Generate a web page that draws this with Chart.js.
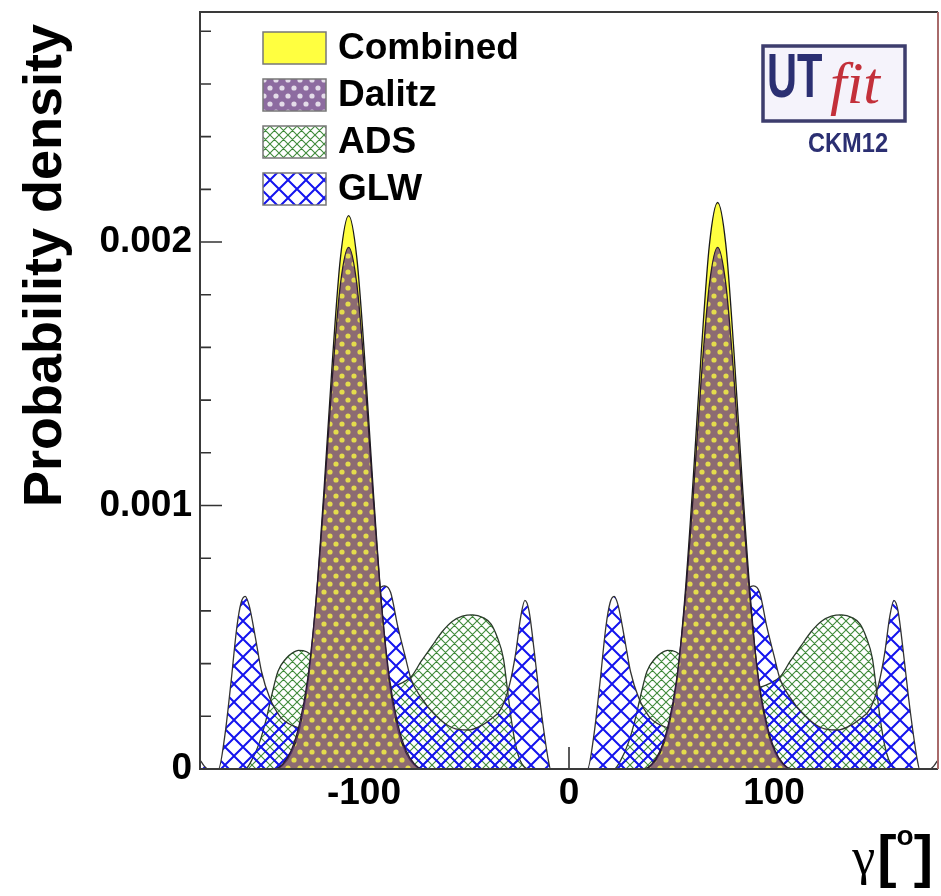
<!DOCTYPE html>
<html lang="en">
<head>
<meta charset="UTF-8">
<title>gamma probability density</title>
<script src="https://cdn.jsdelivr.net/npm/chart.js"></script>
<style>
  body { margin: 0; background: #fff; }
  .container { width: 941px; height: 896px; }
</style>
</head>
<body>
<div class="container"><canvas id="myChart" width="941" height="896"></canvas></div>
<script>
// gamma in degrees, probability density per degree
const peakDeg = [-180, -143.5, -139.5, -135.5, -131.5, -127.5, -123.5, -119.5, -115.5, -111.5, -107.5,
  -103.5, -99.5, -95.5, -91.5, -87.5, -83.5, -79.5, -75.5, -71.5,
  36.5, 40.5, 44.5, 48.5, 52.5, 56.5, 60.5, 64.5, 68.5, 72.5,
  76.5, 80.5, 84.5, 88.5, 92.5, 96.5, 100.5, 104.5, 108.5, 180];
const combinedVal = [0, 0, 0.015e-3, 0.06e-3, 0.15e-3, 0.32e-3, 0.63e-3, 1.06e-3, 1.54e-3, 1.94e-3, 2.10e-3,
  1.94e-3, 1.54e-3, 1.06e-3, 0.63e-3, 0.32e-3, 0.15e-3, 0.06e-3, 0.015e-3, 0,
  0, 0.016e-3, 0.062e-3, 0.155e-3, 0.33e-3, 0.65e-3, 1.09e-3, 1.58e-3, 1.99e-3, 2.15e-3,
  1.99e-3, 1.58e-3, 1.09e-3, 0.65e-3, 0.33e-3, 0.155e-3, 0.062e-3, 0.016e-3, 0, 0];
const dalitzVal = [0, 0, 0.02e-3, 0.07e-3, 0.17e-3, 0.34e-3, 0.63e-3, 1.03e-3, 1.48e-3, 1.84e-3, 1.98e-3,
  1.84e-3, 1.48e-3, 1.03e-3, 0.63e-3, 0.34e-3, 0.17e-3, 0.07e-3, 0.02e-3, 0,
  0, 0.02e-3, 0.07e-3, 0.17e-3, 0.34e-3, 0.63e-3, 1.03e-3, 1.48e-3, 1.84e-3, 1.98e-3,
  1.84e-3, 1.48e-3, 1.03e-3, 0.63e-3, 0.34e-3, 0.17e-3, 0.07e-3, 0.02e-3, 0, 0];

const adsDeg = [-180, -158, -155, -151, -148, -145, -142, -138, -135, -132,
  -128, -124, -118, -112, -106, -100, -94, -88, -82, -77,
  -72, -67, -62, -57, -52, -47, -42, -38, -35, -32,
  -30, -28, -26, -24, -22, -20,
  22, 25, 29, 32, 35, 38, 42, 45, 48, 52,
  56, 62, 68, 74, 80, 86, 92, 98, 103, 108,
  113, 118, 123, 128, 133, 138, 142, 145, 148, 150,
  152, 154, 156, 158, 160, 180];
const adsVal = [0, 0, 0.03e-3, 0.1e-3, 0.18e-3, 0.28e-3, 0.37e-3, 0.42e-3, 0.44e-3, 0.45e-3,
  0.445e-3, 0.42e-3, 0.38e-3, 0.345e-3, 0.325e-3, 0.315e-3, 0.31e-3, 0.31e-3, 0.325e-3, 0.35e-3,
  0.41e-3, 0.465e-3, 0.52e-3, 0.56e-3, 0.58e-3, 0.585e-3, 0.575e-3, 0.55e-3, 0.5e-3, 0.42e-3,
  0.3e-3, 0.18e-3, 0.09e-3, 0.035e-3, 0.01e-3, 0,
  0, 0.03e-3, 0.1e-3, 0.18e-3, 0.28e-3, 0.37e-3, 0.42e-3, 0.44e-3, 0.45e-3, 0.445e-3,
  0.42e-3, 0.38e-3, 0.345e-3, 0.325e-3, 0.315e-3, 0.31e-3, 0.31e-3, 0.325e-3, 0.35e-3, 0.41e-3,
  0.465e-3, 0.52e-3, 0.56e-3, 0.58e-3, 0.585e-3, 0.575e-3, 0.55e-3, 0.5e-3, 0.42e-3, 0.3e-3,
  0.18e-3, 0.09e-3, 0.035e-3, 0.01e-3, 0, 0];

const glwDeg = [-180, -178, -176, -171, -168, -165, -162, -160, -158, -156,
  -153, -150, -146, -141, -135, -129, -123, -117, -112, -107,
  -102, -97, -93, -90, -87, -83.5, -80, -77, -72, -66,
  -60, -54, -49, -44, -38, -33, -29, -26, -23.5, -21.5,
  -19.5, -17, -14.5, -12, -10, -9,
  9, 12, 15, 18, 20, 22, 24, 27, 30, 34,
  39, 45, 51, 57, 63, 68, 73, 78, 83, 87,
  90, 93, 96.5, 100, 103, 108, 114, 120, 126, 131,
  136, 142, 147, 151, 154, 156.5, 158.5, 160.5, 163, 165.5,
  168, 170, 171, 176, 178, 180];
const glwVal = [0.035e-3, 0.012e-3, 0, 0, 0.12e-3, 0.32e-3, 0.54e-3, 0.63e-3, 0.655e-3, 0.62e-3,
  0.5e-3, 0.37e-3, 0.27e-3, 0.2e-3, 0.165e-3, 0.155e-3, 0.17e-3, 0.21e-3, 0.28e-3, 0.38e-3,
  0.5e-3, 0.62e-3, 0.68e-3, 0.695e-3, 0.67e-3, 0.54e-3, 0.43e-3, 0.34e-3, 0.27e-3, 0.21e-3,
  0.17e-3, 0.15e-3, 0.148e-3, 0.16e-3, 0.19e-3, 0.23e-3, 0.32e-3, 0.44e-3, 0.58e-3, 0.64e-3,
  0.6e-3, 0.45e-3, 0.28e-3, 0.13e-3, 0.03e-3, 0,
  0, 0.12e-3, 0.32e-3, 0.54e-3, 0.63e-3, 0.655e-3, 0.62e-3, 0.5e-3, 0.37e-3, 0.27e-3,
  0.2e-3, 0.165e-3, 0.155e-3, 0.17e-3, 0.21e-3, 0.28e-3, 0.38e-3, 0.5e-3, 0.62e-3, 0.68e-3,
  0.695e-3, 0.67e-3, 0.54e-3, 0.43e-3, 0.34e-3, 0.27e-3, 0.21e-3, 0.17e-3, 0.15e-3, 0.148e-3,
  0.16e-3, 0.19e-3, 0.23e-3, 0.32e-3, 0.44e-3, 0.58e-3, 0.64e-3, 0.6e-3, 0.45e-3, 0.28e-3,
  0.13e-3, 0.03e-3, 0, 0, 0.012e-3, 0.035e-3];

const xTicks = [-100, 0, 100];
const yTicks = [0, 0.001, 0.002];
const yTickLabels = ['0', '0.001', '0.002'];
const yMinorTicks = [0.0002, 0.0004, 0.0006, 0.0008, 0.0012, 0.0014, 0.0016, 0.0018, 0.0022, 0.0024, 0.0026, 0.0028];

const FONT = "'Liberation Sans', Arial, sans-serif";

function crossHatch(size, color, width) {
  const c = document.createElement('canvas');
  c.width = c.height = size;
  const g = c.getContext('2d');
  g.strokeStyle = color;
  g.lineWidth = width;
  g.beginPath();
  for (const k of [-size, 0, size]) {
    g.moveTo(k, 0); g.lineTo(k + size, size);
    g.moveTo(k + size, 0); g.lineTo(k, size);
  }
  g.stroke();
  return g.createPattern(c, 'repeat');
}

function dotPattern(w, h, color, r) {
  const c = document.createElement('canvas');
  c.width = w; c.height = h;
  const g = c.getContext('2d');
  g.fillStyle = color;
  g.fillRect(0, 0, w, h);
  g.globalCompositeOperation = 'destination-out';
  g.beginPath();
  for (const [px, py] of [[0, 0], [w, 0], [0, h], [w, h], [w / 2, h / 2]]) {
    g.moveTo(px + r, py);
    g.arc(px, py, r, 0, Math.PI * 2);
  }
  g.fill();
  return g.createPattern(c, 'repeat');
}

const yellowFill = '#ffff40';
const dalitzFill = dotPattern(12, 16, 'rgba(105, 60, 130, 0.76)', 2.6);
const adsFill = crossHatch(9, '#3f8a3a', 1.1);
const glwFill = crossHatch(18, '#1414ee', 2);
const legendFills = [yellowFill, dalitzFill, adsFill, glwFill];

const toPoints = (xs, ys) => xs.map((x, i) => ({ x: x, y: ys[i] }));

const extras = {
  id: 'extras',
  beforeDatasetsDraw(chart) {
    const { ctx, chartArea: a, scales: { x, y } } = chart;
    ctx.save();
    ctx.strokeStyle = '#333';
    ctx.lineWidth = 1.6;
    ctx.beginPath();
    xTicks.forEach(v => {
      const px = x.getPixelForValue(v);
      ctx.moveTo(px, a.bottom); ctx.lineTo(px, a.bottom - 22);
    });
    yTicks.forEach(v => {
      const py = y.getPixelForValue(v);
      ctx.moveTo(a.left, py); ctx.lineTo(a.left + 22, py);
    });
    yMinorTicks.forEach(v => {
      const py = y.getPixelForValue(v);
      ctx.moveTo(a.left, py); ctx.lineTo(a.left + 11, py);
    });
    ctx.stroke();
    ctx.restore();
  },
  afterDatasetsDraw(chart) {
    const { ctx, chartArea: a } = chart;
    ctx.save();
    ctx.lineWidth = 2;
    ctx.strokeStyle = '#3a3a3a';
    ctx.beginPath();
    ctx.moveTo(a.right, a.top); ctx.lineTo(a.left, a.top);
    ctx.lineTo(a.left, a.bottom); ctx.lineTo(a.right, a.bottom);
    ctx.stroke();
    ctx.strokeStyle = '#a86a6a';
    ctx.beginPath();
    ctx.moveTo(a.right, a.top); ctx.lineTo(a.right, a.bottom);
    ctx.stroke();
    ctx.restore();
  },
  afterDraw(chart) {
    const ctx = chart.ctx;
    ctx.save();

    // legend
    const rows = [48, 95, 142, 189];
    chart.data.datasets.forEach((ds, i) => {
      ctx.fillStyle = '#fff';
      ctx.fillRect(263, rows[i] - 16, 63, 32);
      ctx.fillStyle = legendFills[i];
      ctx.fillRect(263, rows[i] - 16, 63, 32);
      ctx.strokeStyle = '#777';
      ctx.lineWidth = 1.5;
      ctx.strokeRect(263, rows[i] - 16, 63, 32);
      ctx.fillStyle = '#000';
      ctx.font = 'bold 37px ' + FONT;
      ctx.textAlign = 'left';
      ctx.textBaseline = 'middle';
      ctx.fillText(ds.label, 338, rows[i] + 1);
    });

    // y title
    ctx.save();
    ctx.translate(61, 507);
    ctx.rotate(-Math.PI / 2);
    ctx.font = 'bold 54px ' + FONT;
    ctx.textAlign = 'left';
    ctx.textBaseline = 'alphabetic';
    ctx.fillStyle = '#000';
    ctx.fillText('Probability density', 0, 0);
    ctx.restore();

    // x title  γ[°]
    ctx.fillStyle = '#000';
    ctx.textBaseline = 'alphabetic';
    ctx.textAlign = 'left';
    let xr = 933;
    ctx.font = 'bold 58px ' + FONT;
    const wBr = ctx.measureText(']').width;
    ctx.fillText(']', xr - wBr, 876);
    xr -= wBr;
    ctx.font = 'bold 28px ' + FONT;
    const wO = ctx.measureText('o').width;
    ctx.fillText('o', xr - wO, 845);
    xr -= wO;
    ctx.font = 'bold 58px ' + FONT;
    const wBl = ctx.measureText('[').width;
    ctx.fillText('[', xr - wBl, 876);
    xr -= wBl + 2;
    ctx.font = "52px 'Liberation Serif', 'DejaVu Serif', serif";
    const wG = ctx.measureText('γ').width;
    ctx.fillText('γ', xr - wG, 874);

    // UTfit logo
    ctx.fillStyle = '#f5f3fb';
    ctx.fillRect(763, 46, 142, 75);
    ctx.strokeStyle = '#3d3d6d';
    ctx.lineWidth = 3.5;
    ctx.strokeRect(763, 46, 142, 75);
    ctx.save();
    ctx.translate(767, 97);
    ctx.scale(0.66, 1);
    ctx.font = 'bold 63px ' + FONT;
    ctx.fillStyle = '#2b2f72';
    ctx.fillText('UT', 0, 0);
    ctx.restore();
    ctx.font = "italic 60px 'Liberation Serif', serif";
    ctx.fillStyle = '#c3303a';
    ctx.fillText('fit', 830, 103);
    ctx.save();
    ctx.translate(808, 152);
    ctx.scale(0.875, 1);
    ctx.font = 'bold 27px ' + FONT;
    ctx.fillStyle = '#2b2f72';
    ctx.fillText('CKM12', 0, 0);
    ctx.restore();

    ctx.restore();
  }
};

const line = {
  pointRadius: 0,
  cubicInterpolationMode: 'monotone',
  fill: 'origin',
  borderWidth: 1.3
};

// order: higher numbers are drawn first (underneath)
const myChart = new Chart(document.getElementById('myChart').getContext('2d'), {
  type: 'line',
  data: {
    datasets: [
      { ...line, label: 'Combined', data: toPoints(peakDeg, combinedVal), backgroundColor: yellowFill, borderColor: '#1a1a1a', order: 2 },
      { ...line, label: 'Dalitz', data: toPoints(peakDeg, dalitzVal), backgroundColor: dalitzFill, borderColor: '#2a1a30', order: 1 },
      { ...line, label: 'ADS', data: toPoints(adsDeg, adsVal), backgroundColor: adsFill, borderColor: '#2a3a2a', order: 4 },
      { ...line, label: 'GLW', data: toPoints(glwDeg, glwVal), backgroundColor: glwFill, borderColor: '#333', order: 3 }
    ]
  },
  options: {
    responsive: false,
    animation: false,
    layout: { padding: { top: 12, right: 3, left: 0, bottom: 0 } },
    plugins: { legend: { display: false }, tooltip: { enabled: false } },
    scales: {
      x: {
        type: 'linear',
        min: -180,
        max: 180,
        afterFit(s) { s.height = 127; s.paddingLeft = 0; s.paddingRight = 0; },
        afterBuildTicks(s) { s.ticks = xTicks.map(v => ({ value: v })); },
        grid: { display: false, drawTicks: false },
        border: { display: false },
        ticks: {
          font: { family: FONT, size: 37, weight: 'bold' },
          color: '#000',
          padding: 3,
          maxRotation: 0,
          autoSkip: false,
          callback: v => String(v)
        }
      },
      y: {
        min: 0,
        max: 0.002873,
        afterFit(s) { s.width = 200; s.paddingTop = 0; s.paddingBottom = 0; },
        afterBuildTicks(s) { s.ticks = yTicks.map(v => ({ value: v })); },
        grid: { display: false, drawTicks: false },
        border: { display: false },
        ticks: {
          font: { family: FONT, size: 37, weight: 'bold' },
          color: '#000',
          padding: 8,
          callback: (v, i) => yTickLabels[i]
        }
      }
    }
  },
  plugins: [extras]
});
</script>
</body>
</html>
